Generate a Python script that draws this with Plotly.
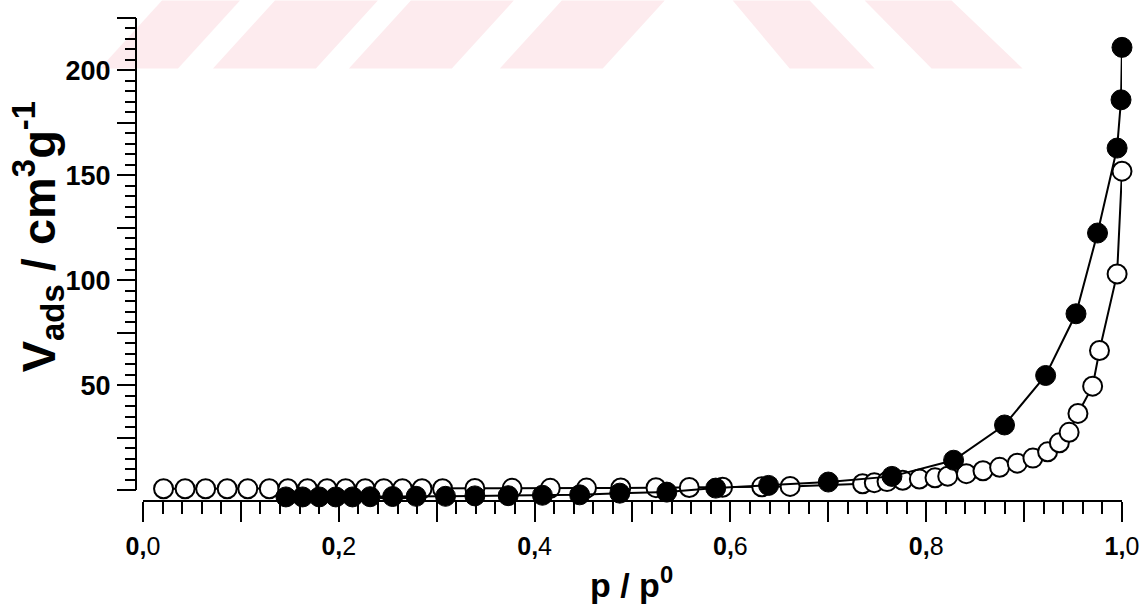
import plotly.graph_objects as go

# ---------------- data ----------------
open_p = [0.021, 0.043, 0.064, 0.086, 0.107, 0.129, 0.148, 0.168, 0.188, 0.207,
          0.227, 0.246, 0.265, 0.285, 0.306, 0.339, 0.377, 0.416, 0.453, 0.488,
          0.524, 0.558, 0.592, 0.632, 0.661, 0.735, 0.747, 0.760, 0.776, 0.793,
          0.809, 0.822, 0.841, 0.858, 0.875, 0.893, 0.909, 0.924, 0.936, 0.946,
          0.955, 0.970, 0.977, 0.995, 1.000]
open_v = [0.6, 0.6, 0.6, 0.6, 0.6, 0.6, 0.6, 0.6, 0.6, 0.6,
          0.6, 0.6, 0.6, 0.6, 0.6, 0.7, 0.8, 0.8, 0.9, 1.0,
          1.1, 1.2, 1.3, 1.5, 1.7, 3.0, 3.5, 4.0, 4.6, 5.2,
          5.8, 6.6, 7.8, 9.2, 10.8, 12.8, 15.2, 18.2, 22.5, 27.5,
          36.5, 49.5, 66.5, 103.0, 152.0]

fill_p = [0.146, 0.163, 0.180, 0.197, 0.214, 0.232, 0.255, 0.279, 0.309, 0.339,
          0.373, 0.408, 0.446, 0.487, 0.535, 0.585, 0.639, 0.700, 0.765, 0.828,
          0.880, 0.922, 0.953, 0.975, 0.995, 0.999, 1.000]
fill_v = [-3.3, -3.3, -3.3, -3.3, -3.3, -3.2, -3.1, -3.0, -3.0, -2.8,
          -2.7, -2.5, -2.3, -1.5, -1.0, 0.9, 2.2, 3.8, 6.5, 14.2,
          31.0, 54.6, 84.0, 122.5, 163.0, 186.0, 211.0]

x_label_vals = [0.0, 0.2, 0.4, 0.6, 0.8, 1.0]
x_label_text = ["<b>0,</b>0", "<b>0,</b>2", "<b>0,</b>4",
                "<b>0,</b>6", "<b>0,</b>8", "<b>1,</b>0"]
x_mid_vals = [0.1, 0.3, 0.5, 0.7, 0.9]
y_label_vals = [50, 100, 150, 200]
y_mid_vals = [0, 25, 75, 125, 175, 225]
y_top = 225

# ---------------- layout geometry (pixels) ----------------
W, H = 1144, 605
L, R, T, B = 136, 1122.5, 17.5, 501          # paper box in pixels
pw, ph = R - L, B - T
y0_px = 490                                   # pixel row of value 0
y_scale = (y0_px - T) / y_top                 # px per unit
y_min = -(B - y0_px) / y_scale


def px(xp):
    return (xp - L) / pw


def py(yp):
    return (B - yp) / ph


fig = go.Figure()

# invisible copy on the overlay axes so that their extra ticks get drawn
fig.add_trace(go.Scatter(
    x=open_p, y=open_v, xaxis="x2", yaxis="y2", mode="markers",
    marker=dict(size=1, opacity=0), hoverinfo="skip", showlegend=False))

fig.add_trace(go.Scatter(
    x=open_p, y=open_v, mode="lines+markers", cliponaxis=False,
    line=dict(color="black", width=2),
    marker=dict(symbol="circle", size=19, color="white",
                line=dict(color="black", width=2)),
    showlegend=False))

fig.add_trace(go.Scatter(
    x=fill_p, y=fill_v, mode="lines+markers", cliponaxis=False,
    line=dict(color="black", width=2),
    marker=dict(symbol="circle", size=20, color="black",
                line=dict(color="black", width=1)),
    showlegend=False))

# faint watermark parallelograms at the top
pink = "#fdebee"
wm_bottom = [(100, 178), (213, 316), (349, 452), (500, 603)]
for x0, x1 in wm_bottom:
    d = 62
    path = (f"M {px(x0)},{py(68)} L {px(x1)},{py(68)} "
            f"L {px(x1 + d)},{py(0)} L {px(x0 + d)},{py(0)} Z")
    fig.add_shape(type="path", path=path, xref="paper", yref="paper",
                  fillcolor=pink, line=dict(width=0), layer="below")
wm_back = [((733, 810), (790, 875)), ((865, 952), (932, 1023))]
for (t0, t1), (b0, b1) in wm_back:
    path = (f"M {px(t0)},{py(0)} L {px(t1)},{py(0)} "
            f"L {px(b1)},{py(68)} L {px(b0)},{py(68)} Z")
    fig.add_shape(type="path", path=path, xref="paper", yref="paper",
                  fillcolor=pink, line=dict(width=0), layer="below")

# y axis line only over the 0..225 span
fig.add_shape(type="line", xref="paper", yref="y", x0=0, x1=0,
              y0=0, y1=y_top, line=dict(color="black", width=2))

font_family = "Liberation Sans, Arial, Helvetica, sans-serif"
xdom = [(143 - L) / pw, 1]

fig.update_layout(
    width=W, height=H,
    margin=dict(l=L, r=W - R, t=T, b=H - B, pad=0),
    paper_bgcolor="white", plot_bgcolor="white",
    font=dict(family=font_family, color="black"),
    xaxis=dict(
        domain=xdom, range=[0, 1], anchor="free", position=0,
        showline=True, linecolor="black", linewidth=2, showgrid=False,
        zeroline=False, ticks="outside", ticklen=20, tickwidth=2,
        tickcolor="black", tickmode="array", tickvals=x_label_vals,
        ticktext=x_label_text, tickfont=dict(size=25), ticklabelstandoff=3,
        minor=dict(dtick=0.02, ticks="outside", ticklen=12, tickwidth=2,
                   tickcolor="black", showgrid=False),
        automargin=False, fixedrange=True),
    xaxis2=dict(
        overlaying="x", domain=xdom, range=[0, 1], anchor="free", position=0,
        showline=False, showgrid=False, zeroline=False, ticks="outside",
        ticklen=20, tickwidth=2, tickcolor="black", tickmode="array",
        tickvals=x_mid_vals, showticklabels=False, automargin=False,
        fixedrange=True),
    yaxis=dict(
        domain=[0, 1], range=[y_min, y_top], anchor="free", position=0,
        showline=False, showgrid=False,
        zeroline=False, ticks="outside", ticklen=19, tickwidth=2,
        tickcolor="black", tickmode="array", tickvals=y_label_vals,
        ticktext=[str(v) for v in y_label_vals],
        tickfont=dict(size=27, weight="bold"), ticklabelstandoff=1,
        minor=dict(tickmode="array",
                   tickvals=[v for v in range(5, y_top + 1, 5)
                             if v % 25 != 0],
                   ticks="outside", ticklen=11, tickwidth=2,
                   tickcolor="black", showgrid=False),
        automargin=False, fixedrange=True),
    yaxis2=dict(
        overlaying="y", domain=[0, 1], range=[y_min, y_top], anchor="free",
        position=0, showline=False, showgrid=False, zeroline=False,
        ticks="outside", ticklen=19, tickwidth=2, tickcolor="black",
        tickmode="array", tickvals=y_mid_vals, showticklabels=False,
        automargin=False, fixedrange=True),
)

fig.add_annotation(
    text="V<sub>ads</sub> / cm<sup>3</sup>g<sup>-1</sup>",
    xref="paper", yref="paper", x=px(38), y=py(237),
    xanchor="center", yanchor="middle", textangle=-90, showarrow=False,
    font=dict(size=47, weight="bold", family=font_family))

fig.add_annotation(
    text="p / p<sup>0</sup>",
    xref="paper", yref="paper", x=px(632), y=py(583),
    xanchor="center", yanchor="middle", showarrow=False,
    font=dict(size=34, weight="bold", family=font_family))

fig.write_html("out.html")
